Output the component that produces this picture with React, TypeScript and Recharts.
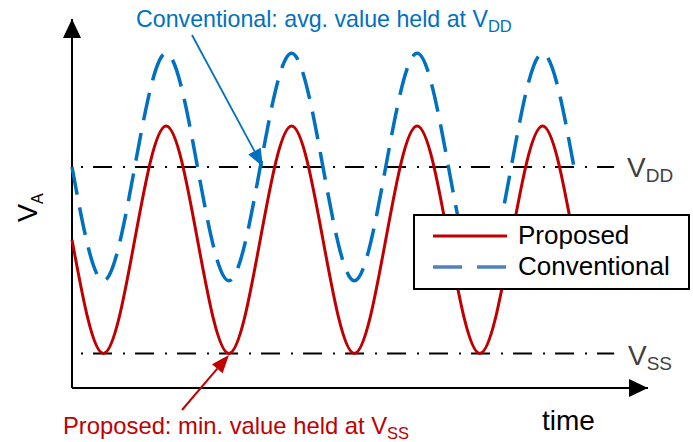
import React from 'react'
import { LineChart, Line, XAxis, YAxis, ReferenceLine, Legend } from 'recharts'

// time in periods, sampled every quarter period
const timeSteps = [0, 0.25, 0.5, 0.75, 1, 1.25, 1.5, 1.75, 2, 2.25, 2.5, 2.75, 3, 3.25, 3.5, 3.75, 4]
const proposedValues = [0.61, 0, 0.61, 1.22, 0.61, 0, 0.61, 1.22, 0.61, 0, 0.61, 1.22, 0.61, 0, 0.61, 1.22, 0.61]
const conventionalValues = [1.0, 0.39, 1.0, 1.61, 1.0, 0.39, 1.0, 1.61, 1.0, 0.39, 1.0, 1.61, 1.0, 0.39, 1.0, 1.61, 1.0]
const VDD = 1
const VSS = 0
const seriesNames = ['Proposed', 'Conventional']

const data = timeSteps.map((t, i) => ({
  t,
  proposed: proposedValues[i],
  conventional: conventionalValues[i],
}))

const X_DOMAIN = [0, 4.59]
const Y_DOMAIN = [-0.185, 1.7936]

const RED = '#C00000'
const BLUE = '#0070C0'
const FONT = '"Liberation Sans", Arial, sans-serif'

const arrowHead = (tail: number[], tip: number[], len = 18, half = 7) => {
  const dx = tip[0] - tail[0]
  const dy = tip[1] - tail[1]
  const d = Math.hypot(dx, dy)
  const ux = dx / d
  const uy = dy / d
  const bx = tip[0] - ux * len
  const by = tip[1] - uy * len
  return {
    base: [bx, by],
    points: `${tip[0]},${tip[1]} ${bx - uy * half},${by + ux * half} ${bx + uy * half},${by - ux * half}`,
  }
}

const LegendBox = () => (
  <div
    style={{
      boxSizing: 'border-box',
      width: 277,
      height: 76,
      border: '2px solid #000',
      background: '#fff',
      fontFamily: FONT,
      fontSize: 26,
      color: '#000',
      padding: '4px 0 0 16px',
    }}
  >
    <div style={{ display: 'flex', alignItems: 'center', height: 31 }}>
      <svg width={78} height={10} style={{ marginRight: 9 }}>
        <line x1={2} y1={5} x2={76} y2={5} stroke={RED} strokeWidth={3} />
      </svg>
      {seriesNames[0]}
    </div>
    <div style={{ display: 'flex', alignItems: 'center', height: 31 }}>
      <svg width={78} height={10} style={{ marginRight: 9 }}>
        <line x1={2} y1={5} x2={76} y2={5} stroke="#4F81BD" strokeWidth={3.5} strokeDasharray="29 15" />
      </svg>
      {seriesNames[1]}
    </div>
  </div>
)

export default function App() {
  const blueArrow = arrowHead([192, 35], [263, 167])
  const redArrow = arrowHead([182, 410], [229, 355])
  return (
    <div style={{ position: 'absolute', left: 0, top: 0, width: 693, height: 442, background: '#fff' }}>
      <LineChart width={693} height={442} data={data} margin={{ top: 19, left: 72, right: 45, bottom: 54 }}>
        <XAxis dataKey="t" type="number" domain={X_DOMAIN} hide />
        <YAxis type="number" domain={Y_DOMAIN} hide />
        {/* axes */}
        <ReferenceLine
          segment={[{ x: X_DOMAIN[0], y: Y_DOMAIN[0] }, { x: X_DOMAIN[0], y: Y_DOMAIN[1] }]}
          stroke="#000"
          strokeWidth={2}
        />
        <ReferenceLine
          segment={[{ x: X_DOMAIN[0], y: Y_DOMAIN[0] }, { x: X_DOMAIN[1], y: Y_DOMAIN[0] }]}
          stroke="#000"
          strokeWidth={2}
        />
        <ReferenceLine
          segment={[{ x: 0.072, y: VDD }, { x: 4.32, y: VDD }]}
          stroke="#000"
          strokeWidth={2}
          strokeDasharray="2 10 19 11"
        />
        <ReferenceLine
          segment={[{ x: 0.072, y: VSS }, { x: 4.32, y: VSS }]}
          stroke="#000"
          strokeWidth={2}
          strokeDasharray="2 10 19 11"
        />
        <Line
          type="natural"
          dataKey="conventional"
          name={seriesNames[1]}
          stroke={BLUE}
          strokeWidth={3.5}
          strokeDasharray="28 13"
          dot={false}
          isAnimationActive={false}
        />
        <Line
          type="natural"
          dataKey="proposed"
          name={seriesNames[0]}
          stroke={RED}
          strokeWidth={3}
          dot={false}
          isAnimationActive={false}
        />
        <Legend
          layout="vertical"
          align="center"
          verticalAlign="middle"
          wrapperStyle={{ left: 413, top: 214, width: 277, height: 76 }}
          content={() => <LegendBox />}
        />
      </LineChart>
      <svg
        width={693}
        height={442}
        style={{ position: 'absolute', left: 0, top: 0, pointerEvents: 'none' }}
        fontFamily={FONT}
      >
        {/* axis arrowheads */}
        <polygon points="72,19 63,38 81,38" fill="#000" />
        <polygon points="648,388 629,379 629,397" fill="#000" />

        {/* annotation arrows */}
        <line x1={192} y1={35} x2={blueArrow.base[0]} y2={blueArrow.base[1]} stroke={BLUE} strokeWidth={1.8} />
        <polygon points={blueArrow.points} fill={BLUE} />
        <line x1={182} y1={410} x2={redArrow.base[0]} y2={redArrow.base[1]} stroke={RED} strokeWidth={2} />
        <polygon points={redArrow.points} fill={RED} />

        <text x={136} y={27} fontSize={23.2} fill={BLUE}>
          Conventional: avg. value held at V<tspan fontSize={16.5} dy={5}>DD</tspan>
        </text>
        <text x={63} y={434} fontSize={23.8} fill={RED}>
          Proposed: min. value held at V<tspan fontSize={16.5} dy={5}>SS</tspan>
        </text>

        <text x={627} y={177} fontSize={28} fill="#404040">
          V<tspan fontSize={19} dy={5}>DD</tspan>
        </text>
        <text x={628} y={365} fontSize={28} fill="#404040">
          V<tspan fontSize={19} dy={5}>SS</tspan>
        </text>

        <text x={542} y={430} fontSize={28} fill="#000">
          time
        </text>
        <text x={37} y={222} fontSize={27} fill="#000" transform="rotate(-90 37 222)">
          V<tspan fontSize={16} dy={6}>A</tspan>
        </text>
      </svg>
    </div>
  )
}
